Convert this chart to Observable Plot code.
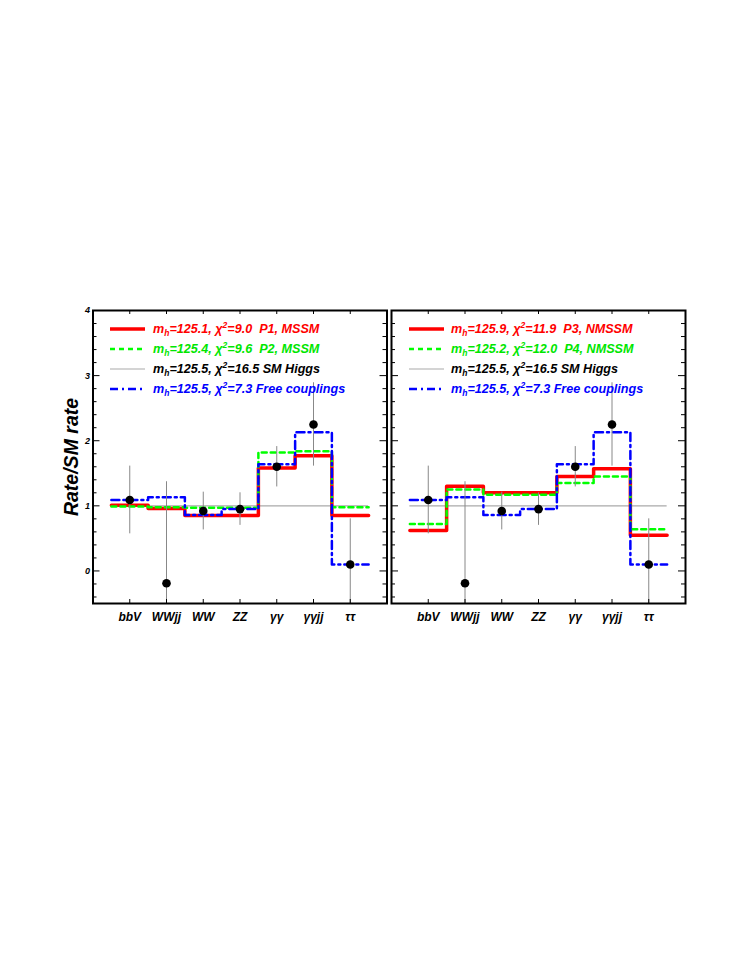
<!DOCTYPE html>
<html><head><meta charset="utf-8">
<script src="https://cdn.jsdelivr.net/npm/d3@7"></script>
<script src="https://cdn.jsdelivr.net/npm/@observablehq/plot@0.6"></script>
<style>
body{margin:0;background:#fff;width:752px;height:973px;position:relative;overflow:hidden;font-family:"Liberation Sans",Arial,sans-serif;}
.panel{position:absolute;top:290px;}
.legend{position:absolute;top:0;left:0;}
.row{position:absolute;white-space:nowrap;height:14px;line-height:14px;font:italic bold 12.6px "Liberation Sans",Arial,sans-serif;}
.row svg{position:absolute;left:0;top:0;overflow:visible;}
.row span{position:absolute;top:0;white-space:pre;}
.row sub{font-size:8.5px;position:relative;top:3px;vertical-align:baseline;line-height:0;}
.row sup{font-size:8.5px;position:relative;top:-5px;vertical-align:baseline;line-height:0;}
</style></head><body>
<div id="left" class="panel" style="left:0px"></div>
<div id="right" class="panel" style="left:388px"></div>
<div id="legends"></div>
<script>
// ---- data ----
const categories = ["bbV", "WWjj", "WW", "ZZ", "γγ", "γγjj", "ττ"];
const obsValue = [1.09, -0.19, 0.92, 0.95, 1.60, 2.25, 0.10];
const obsLow   = [0.57, -1.80, 0.63, 0.70, 1.29, 1.61, -0.60];
const obsHigh  = [1.61, 1.37, 1.21, 1.20, 1.91, 2.89, 0.80];
const smRate = [1];
const p1MSSM  = [1.01, 0.96, 0.85, 0.85, 1.58, 1.77, 0.85];
const p2MSSM  = [0.99, 0.98, 0.97, 0.97, 1.82, 1.84, 0.98];
const p3NMSSM = [0.62, 1.30, 1.20, 1.20, 1.45, 1.57, 0.55];
const p4NMSSM = [0.72, 1.25, 1.17, 1.17, 1.35, 1.45, 0.64];
const freeCouplings = [1.09, 1.13, 0.86, 0.95, 1.64, 2.13, 0.10];
const yMajorTicks = [0, 1, 2, 3, 4];
const yMinorTicks = [-0.4, -0.2, 0.2, 0.4, 0.6, 0.8, 1.2, 1.4, 1.6, 1.8, 2.2, 2.4, 2.6, 2.8, 3.2, 3.4, 3.6, 3.8];
const yDomain = [-0.5, 4];
const yTitle = "Rate/SM rate";

const leftMass = ["125.1", "125.4", "125.5", "125.5"];
const leftChi2 = ["9.0", "9.6", "16.5", "7.3"];
const leftTag  = ["  P1, MSSM", "  P2, MSSM", " SM Higgs", " Free couplings"];
const rightMass = ["125.9", "125.2", "125.5", "125.5"];
const rightChi2 = ["11.9", "12.0", "16.5", "7.3"];
const rightTag  = ["  P3, NMSSM", "  P4, NMSSM", " SM Higgs", " Free couplings"];
const legendText = ["#ff0000", "#00e600", "#000000", "#0000ff"];

// ---- styles ----
const RED = "#ff0000", GREEN = "#00ff00", BLUE = "#0000ff", GRAY = "#aaaaaa";
const lineStyles = [
  {stroke: RED, strokeWidth: 3.5},
  {stroke: GREEN, strokeWidth: 2.5, strokeDasharray: "5,4"},
  {stroke: GRAY, strokeWidth: 1.2},
  {stroke: BLUE, strokeWidth: 2.5, strokeDasharray: "8,4,2,4"}
];

const idx = categories.map((d, i) => i);
const steps = vals => d3.range(vals.length + 1).map(i => ({x: i + 0.5, y: vals[Math.min(i, vals.length - 1)]}));
const font = "Liberation Sans, Arial, sans-serif";

function panel(el, redVals, greenVals, isLeft) {
  const width = isLeft ? 390 : 300;
  const mL = isLeft ? 92.5 : 3, mR = isLeft ? 3.5 : 3;
  const height = 350, mT = 20, mB = 37;
  const fw = width - mL - mR, fh = height - mT - mB;
  const marks = [
    Plot.ruleY(smRate, {x1: 0.5, x2: categories.length + 0.5, stroke: GRAY, strokeWidth: 1.2}),
    Plot.line(steps(redVals), {x: "x", y: "y", curve: "step-after", ...lineStyles[0]}),
    Plot.line(steps(greenVals), {x: "x", y: "y", curve: "step-after", ...lineStyles[1]}),
    Plot.line(steps(freeCouplings), {x: "x", y: "y", curve: "step-after", ...lineStyles[3]}),
    Plot.ruleX(idx, {x: i => i + 1, y1: i => obsLow[i], y2: i => obsHigh[i], stroke: "#888", strokeWidth: 1, clip: true}),
    Plot.dot(idx, {x: i => i + 1, y: i => obsValue[i], r: 4.3, fill: "black"}),
    // inside ticks
    Plot.tickY(yMajorTicks, {y: d => d, insetRight: fw - 7, stroke: "black", strokeWidth: 1}),
    Plot.tickY(yMajorTicks, {y: d => d, insetLeft: fw - 7, stroke: "black", strokeWidth: 1}),
    Plot.tickY(yMinorTicks, {y: d => d, insetRight: fw - 4, stroke: "black", strokeWidth: 1}),
    Plot.tickY(yMinorTicks, {y: d => d, insetLeft: fw - 4, stroke: "black", strokeWidth: 1}),
    Plot.tickX(idx, {x: i => i + 1, insetBottom: fh - 4, stroke: "black", strokeWidth: 1}),
    Plot.tickX(idx, {x: i => i + 1, insetTop: fh - 4, stroke: "black", strokeWidth: 1}),
    Plot.frame({stroke: "black", strokeWidth: 2}),
    Plot.text(categories, {x: (d, i) => i + 1, frameAnchor: "bottom", dy: 14, lineAnchor: "middle",
      fontSize: 12, fontWeight: "bold", fontStyle: "italic", fill: "black"})
  ];
  if (isLeft) {
    marks.push(
      Plot.text(yMajorTicks, {x: 0, y: d => d, dx: -3, textAnchor: "end", fontSize: 9, fontWeight: "bold", fontStyle: "italic", fill: "black"}),
      Plot.text([yTitle], {frameAnchor: "left", textAnchor: "middle", lineAnchor: "middle", rotate: -90, dx: -21, fontSize: 19.5, fontWeight: "bold", fontStyle: "italic", fill: "black"})
    );
  }
  const chart = Plot.plot({
    width, height, marginLeft: mL, marginRight: mR, marginTop: mT, marginBottom: mB,
    x: {domain: [0, categories.length + 1], axis: null},
    y: {domain: yDomain, axis: null},
    style: {fontFamily: font, background: "transparent", overflow: "visible"},
    marks
  });
  document.getElementById(el).appendChild(chart);
}

panel("left", p1MSSM, p2MSSM, true);
panel("right", p3NMSSM, p4NMSSM, false);

// ---- legends ----
function legend(lineX0, textX, masses, chis, tags) {
  const rowsY = [329, 349, 369, 389];
  const holder = document.getElementById("legends");
  masses.forEach((m, i) => {
    const row = document.createElement("div");
    row.className = "row";
    row.style.left = lineX0 + "px";
    row.style.top = (rowsY[i] - 7) + "px";
    const s = lineStyles[i];
    row.innerHTML =
      `<svg width="36" height="14"><line x1="0" x2="35" y1="7" y2="7" stroke="${s.stroke}" stroke-width="${s.strokeWidth}" ${s.strokeDasharray ? `stroke-dasharray="${s.strokeDasharray}"` : ""}/></svg>` +
      `<span style="left:${textX - lineX0}px;color:${legendText[i]}">m<sub>h</sub>=${m}, χ<sup>2</sup>=${chis[i]}${tags[i]}</span>`;
    holder.appendChild(row);
  });
}
legend(110, 153, leftMass, leftChi2, leftTag);
legend(409, 451, rightMass, rightChi2, rightTag);
</script>
</body></html>
